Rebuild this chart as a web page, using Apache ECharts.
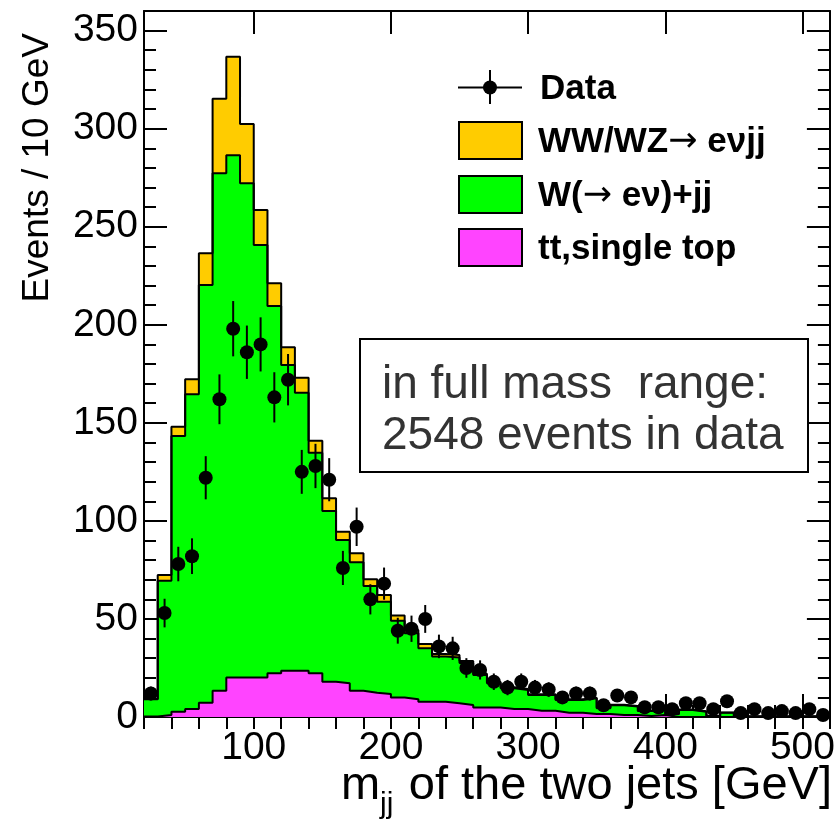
<!DOCTYPE html>
<html><head><meta charset="utf-8">
<script src="https://cdn.jsdelivr.net/npm/echarts@6/dist/echarts.min.js"></script>
<style>html,body{margin:0;padding:0;background:#fff}#c{width:838px;height:819px}</style>
</head><body><div id="c"></div>
<script>
// ---- data ----
const binLowEdges = [20,30,40,50,60,70,80,90,100,110,120,130,140,150,160,170,180,190,200,210,
  220,230,240,250,260,270,280,290,300,310,320,330,340,350,360,370,380,390,400,410,
  420,430,440,450,460,470,480,490,500,510];
const binWidth = 10;
const xMin = 20, xMax = 520;
const yMin = 0, yMax = 360;

const dataCounts = [12,53,78,82,122,162,198,186,190,163,172,125,128,121,76,97,60,68,44,45,
  50,36,35,25,24,18,15,18,15,14,10,12,12,6,11,10,5,5,4,7,
  7,4,8,2,4,2,3,2,4,1];
const dataErrors = [3.5,7.3,8.8,9.1,11.0,12.7,14.1,13.6,13.8,12.8,13.1,11.2,11.3,11.0,8.7,9.8,7.7,8.2,6.6,6.7,
  7.1,6.0,5.9,5.0,4.9,4.2,3.9,4.2,3.9,3.7,3.2,3.5,3.5,2.4,3.3,3.2,2.2,2.2,2.0,2.6,
  2.6,2.0,2.8,1.4,2.0,1.4,1.7,1.4,2.0,1.0];

// stacked histogram heights (top of each layer)
const stackTopDiboson = [9.2,72.4,148,172.2,236.5,315.3,336.7,302.4,258.5,221.2,
  188.5,173,140.9,111.5,94.5,83.5,70.2,62.2,51.7,44.4,
  37.2,32.1,31.6,28.5,22,17.8,15.2,14.3,11.6,11.6,
  9.1,9.0,9.8,4.8,6.2,5.6,3.2,4.2,1.6,3.8,
  2.9,0.6,2.3,0.4,0.4,0.4,0.4,0.4,0.4,0.4];
const stackTopWjets = [9,69.5,143.3,164.6,220.3,277.3,286.4,272.2,240.7,209.6,
  179.5,165.4,134.8,105,90.3,78.9,66.8,58.8,49.1,42.7,
  35,30.8,30.4,27.5,21.4,17.2,14.6,13.8,11.2,11.2,
  8.7,8.7,9.5,4.5,6.0,5.3,3.0,4.0,1.5,3.6,
  2.7,0.5,2.2,0.3,0.3,0.3,0.3,0.3,0.3,0.3];
const stackTopTop = [0.3,1.0,2.7,4.1,7.3,13.4,20.1,20.1,20.1,22.3,
  23.6,23.6,22.3,18.0,17.2,13.4,12.4,11.7,9.9,9.0,
  7.8,7.8,7.0,6.1,4.9,4.9,4.1,4.1,3.2,3.2,
  2.2,2.2,1.5,1.5,1.0,1.0,0.5,1.0,0,0,
  0,0,0,0,0,0,0,0,0,0];

const legendLabels = ['Data', 'WW/WZ{a|\u2192} e\u03BDjj', 'W({a|\u2192} e\u03BD)+jj', 'tt,single top'];
const seriesNames = ['Data', 'WW/WZ\u2192 e\u03BDjj', 'W(\u2192 e\u03BD)+jj', 'tt,single top'];
const boxLines = ['in full mass  range:', '2548 events in data'];

// ---- build ----
function stepData(vals) {
  const d = binLowEdges.map((e, i) => [e, vals[i]]);
  d.push([xMax, vals[vals.length - 1]]);
  return d;
}
const centers = binLowEdges.map(e => e + binWidth / 2);
const pointData = centers.map((c, i) => [c, dataCounts[i], dataErrors[i]]);

const FONT = '"Liberation Sans", Arial, Helvetica, sans-serif';
const frame = { show: true, onZero: false, lineStyle: { color: '#000', width: 2 } };
const majTick = { show: true, inside: true, length: 23, lineStyle: { color: '#000', width: 2 } };
const minTick = { show: true, inside: true, length: 12, lineStyle: { color: '#000', width: 2 } };

function histSeries(name, vals, color) {
  return {
    name, type: 'line', step: 'end', data: stepData(vals), symbol: 'none',
    lineStyle: { color: '#000', width: 2 },
    areaStyle: { color, opacity: 1 },
    itemStyle: { color }, silent: true
  };
}
const arrowRich = { a: { font: '35px "DejaVu Sans", sans-serif', fill: '#000' } };

const chart = echarts.init(document.getElementById('c'), null, { renderer: 'canvas' });
chart.setOption({
  animation: false,
  backgroundColor: '#fff',
  grid: { left: 144, right: 6, top: 11, bottom: 102, containLabel: false },
  xAxis: [
    { type: 'value', position: 'bottom', min: xMin, max: xMax, splitNumber: 5,
      axisLine: frame, axisTick: majTick, splitLine: { show: false },
      axisLabel: { showMinLabel: false, showMaxLabel: false, fontSize: 39, color: '#000', fontFamily: FONT, margin: 12 } },
    { type: 'value', position: 'top', min: xMin, max: xMax, splitNumber: 5,
      axisLine: frame, axisTick: majTick, splitLine: { show: false }, axisLabel: { show: false } },
    { type: 'value', position: 'bottom', min: xMin, max: xMax, interval: 20,
      axisLine: { show: false }, axisTick: minTick, splitLine: { show: false }, axisLabel: { show: false } },
    { type: 'value', position: 'top', min: xMin, max: xMax, interval: 20,
      axisLine: { show: false }, axisTick: minTick, splitLine: { show: false }, axisLabel: { show: false } }
  ],
  yAxis: [
    { type: 'value', position: 'left', min: yMin, max: yMax, interval: 50,
      axisLine: frame, axisTick: majTick, splitLine: { show: false },
      axisLabel: { showMaxLabel: false, fontSize: 39, color: '#000', fontFamily: FONT, margin: 6 } },
    { type: 'value', position: 'right', min: yMin, max: yMax, interval: 50,
      axisLine: frame, axisTick: majTick, splitLine: { show: false }, axisLabel: { show: false } },
    { type: 'value', position: 'left', min: yMin, max: yMax, interval: 10,
      axisLine: { show: false }, axisTick: minTick, splitLine: { show: false }, axisLabel: { show: false } },
    { type: 'value', position: 'right', min: yMin, max: yMax, interval: 10,
      axisLine: { show: false }, axisTick: minTick, splitLine: { show: false }, axisLabel: { show: false } }
  ],
  series: [
    histSeries(seriesNames[1], stackTopDiboson, '#FFCC00'),
    histSeries(seriesNames[2], stackTopWjets, '#00FF00'),
    histSeries(seriesNames[3], stackTopTop, '#FF44FF'),
    {
      name: 'Data errors', type: 'custom', data: pointData, silent: true, z: 5,
      renderItem: function (params, api) {
        const x = api.value(0), y = api.value(1), e = api.value(2);
        const p1 = api.coord([x, y - e]);
        const p2 = api.coord([x, y + e]);
        return { type: 'line', shape: { x1: p1[0], y1: p1[1], x2: p2[0], y2: p2[1] },
                 style: { stroke: '#000', lineWidth: 2 } };
      }
    },
    {
      name: seriesNames[0], type: 'scatter', data: pointData, symbol: 'circle', symbolSize: 14,
      itemStyle: { color: '#000', opacity: 1 }, z: 6, silent: true
    }
  ],
  graphic: [
    // legend
    { type: 'line', shape: { x1: 458, y1: 87.5, x2: 522, y2: 87.5 }, style: { stroke: '#000', lineWidth: 2 }, z: 100 },
    { type: 'line', shape: { x1: 490, y1: 70, x2: 490, y2: 104 }, style: { stroke: '#000', lineWidth: 2 }, z: 100 },
    { type: 'circle', shape: { cx: 490, cy: 87.5, r: 7 }, style: { fill: '#000' }, z: 100 },
    { type: 'text', x: 540, y: 89, style: { text: legendLabels[0], font: 'bold 35px ' + FONT, fill: '#000', verticalAlign: 'middle' }, z: 100 },
    { type: 'rect', shape: { x: 459, y: 122, width: 63, height: 37 }, style: { fill: '#FFCC00', stroke: '#000', lineWidth: 2 }, z: 100 },
    { type: 'text', x: 538, y: 142, style: { text: legendLabels[1], rich: arrowRich, font: 'bold 35px ' + FONT, fill: '#000', verticalAlign: 'middle' }, z: 100 },
    { type: 'rect', shape: { x: 459, y: 176, width: 63, height: 37 }, style: { fill: '#00FF00', stroke: '#000', lineWidth: 2 }, z: 100 },
    { type: 'text', x: 538, y: 196, style: { text: legendLabels[2], rich: arrowRich, font: 'bold 35px ' + FONT, fill: '#000', verticalAlign: 'middle' }, z: 100 },
    { type: 'rect', shape: { x: 459, y: 229, width: 63, height: 37 }, style: { fill: '#FF44FF', stroke: '#000', lineWidth: 2 }, z: 100 },
    { type: 'text', x: 538, y: 249, style: { text: legendLabels[3], font: 'bold 35px ' + FONT, fill: '#000', verticalAlign: 'middle' }, z: 100 },
    // annotation box
    { type: 'rect', shape: { x: 360, y: 339, width: 448, height: 133 }, style: { fill: '#fff', stroke: '#000', lineWidth: 2 }, z: 100 },
    { type: 'text', x: 382, y: 385, style: { text: boxLines[0], font: '46px ' + FONT, fill: '#333', verticalAlign: 'middle' }, z: 101 },
    { type: 'text', x: 382, y: 436, style: { text: boxLines[1], font: '46px ' + FONT, fill: '#333', verticalAlign: 'middle' }, z: 101 },
    // axis titles
    { type: 'text', x: 38, y: 33, rotation: Math.PI / 2,
      style: { text: 'Events / 10 GeV', font: '37px ' + FONT, fill: '#000', align: 'right', verticalAlign: 'middle' }, z: 100 },
    { type: 'text', x: 341, y: 786, style: { text: 'm', font: '47px ' + FONT, fill: '#000', verticalAlign: 'middle' }, z: 100 },
    { type: 'text', x: 380, y: 805, style: { text: 'jj', font: '30px ' + FONT, fill: '#000', verticalAlign: 'middle' }, z: 100 },
    { type: 'text', x: 832, y: 786, style: { text: 'of the two jets [GeV]', font: '47px ' + FONT, fill: '#000', align: 'right', verticalAlign: 'middle' }, z: 100 }
  ]
});
</script></body></html>
